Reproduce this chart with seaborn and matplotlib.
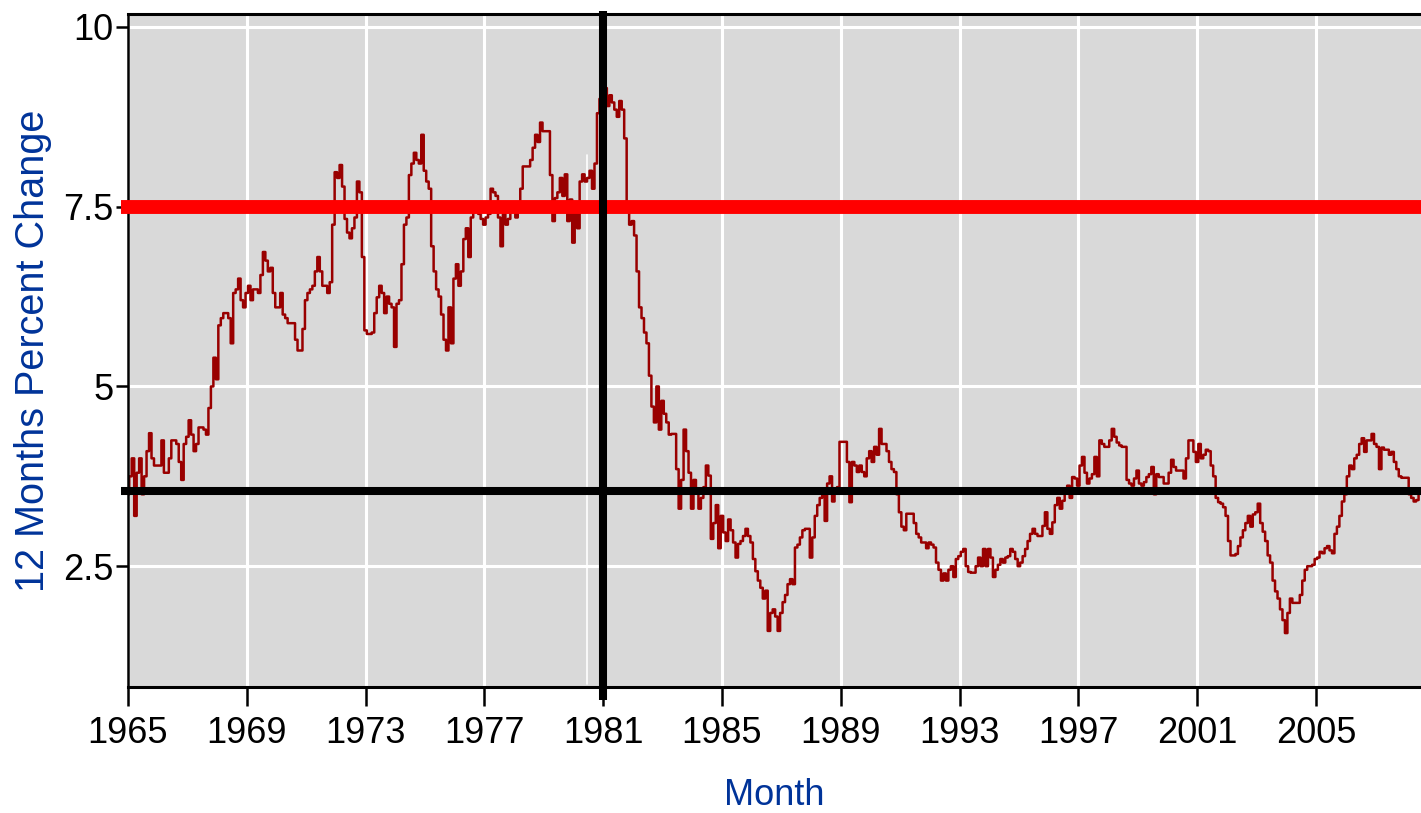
# -*- coding: utf-8 -*-
"""
12 months percent change, monthly 1965 - mid 2008
"""
import numpy as np
import pandas as pd
import matplotlib
matplotlib.use("Agg")
import matplotlib.pyplot as plt
from matplotlib import font_manager
import seaborn as sns

# =====================
# data (one list per stretch of years, monthly values)
# =====================
rate_1965_1969 = [
    3.5, 3.75, 4.0, 3.2, 3.8, 4.0, 3.5, 3.75, 4.1, 4.35, 4.0, 3.9,
    3.9, 3.9, 4.25, 3.8, 3.8, 4.0, 4.25, 4.25, 4.2, 3.95, 3.7, 4.2,
    4.3, 4.53, 4.33, 4.1, 4.2, 4.43, 4.43, 4.4, 4.33, 4.7, 5.0, 5.4,
    5.1, 5.85, 5.95, 6.02, 6.02, 5.95, 5.6, 6.3, 6.35, 6.5, 6.2, 6.1,
    6.3, 6.4, 6.2, 6.35, 6.35, 6.3, 6.55, 6.87, 6.75, 6.6, 6.65, 6.3,
]
rate_1970_1974 = [
    6.1, 6.1, 6.3, 6.0, 5.95, 5.88, 5.88, 5.88, 5.65, 5.5, 5.5, 5.8,
    6.2, 6.3, 6.35, 6.4, 6.6, 6.8, 6.6, 6.4, 6.4, 6.3, 6.45, 7.25,
    7.98, 7.9, 8.08, 7.78, 7.33, 7.14, 7.06, 7.2, 7.35, 7.85, 7.7, 6.8,
    5.78, 5.73, 5.73, 5.75, 6.02, 6.24, 6.4, 6.3, 6.02, 6.25, 6.15, 6.1,
    5.55, 6.15, 6.2, 6.7, 7.25, 7.35, 7.94, 8.1, 8.25, 8.15, 8.1, 8.5,
]
rate_1975_1979 = [
    8.0, 7.85, 7.75, 6.95, 6.6, 6.35, 6.25, 6.0, 5.65, 5.5, 6.1, 5.6,
    6.5, 6.7, 6.4, 6.6, 7.05, 7.2, 6.8, 7.35, 7.43, 7.43, 7.4, 7.33,
    7.25, 7.35, 7.4, 7.75, 7.7, 7.65, 7.35, 6.95, 7.4, 7.25, 7.33, 7.48,
    7.45, 7.35, 7.45, 7.75, 8.06, 8.06, 8.06, 8.15, 8.32, 8.5, 8.4, 8.67,
    8.55, 8.55, 8.55, 7.94, 7.3, 7.62, 7.7, 7.9, 7.65, 7.95, 7.3, 7.6,
]
rate_1980_1984 = [
    7.0, 7.5, 7.2, 7.85, 7.95, 7.85, 7.9, 8.0, 7.75, 8.1, 8.8, 9.0,
    9.1, 9.15, 8.9, 9.05, 8.95, 8.85, 8.75, 8.97, 8.85, 8.45, 7.55, 7.25,
    7.3, 7.1, 6.6, 6.1, 5.95, 5.75, 5.6, 5.15, 4.72, 4.5, 5.0, 4.4,
    4.8, 4.62, 4.5, 4.33, 4.34, 4.34, 3.85, 3.3, 3.7, 4.4, 4.1, 3.8,
    3.3, 3.7, 3.55, 3.3, 3.45, 3.6, 3.9, 3.76, 2.88, 3.1, 3.35, 2.75,
]
rate_1985_1989 = [
    3.2, 2.97, 2.85, 3.15, 3.0, 2.83, 2.62, 2.81, 2.85, 2.92, 3.02, 2.92,
    2.83, 2.6, 2.43, 2.3, 2.2, 2.05, 2.16, 1.6, 1.85, 1.9, 1.8, 1.6,
    1.85, 2.0, 2.1, 2.25, 2.32, 2.25, 2.76, 2.8, 2.9, 3.0, 3.02, 3.02,
    2.62, 2.9, 3.2, 3.35, 3.45, 3.5, 3.13, 3.65, 3.75, 3.4, 3.55, 3.6,
    4.23, 4.23, 4.23, 3.95, 3.39, 3.95, 3.9, 3.81, 3.9, 3.81, 3.75, 4.0,
]
rate_1990_1994 = [
    4.1, 3.95, 4.16, 4.05, 4.41, 4.2, 4.2, 4.1, 3.95, 3.85, 3.81, 3.5,
    3.25, 3.05, 3.0, 3.23, 3.23, 3.23, 3.1, 2.95, 2.9, 2.83, 2.83, 2.75,
    2.83, 2.8, 2.76, 2.55, 2.45, 2.3, 2.4, 2.3, 2.45, 2.5, 2.35, 2.6,
    2.64, 2.7, 2.74, 2.5, 2.42, 2.41, 2.41, 2.5, 2.62, 2.5, 2.74, 2.5,
    2.74, 2.62, 2.35, 2.45, 2.52, 2.6, 2.55, 2.62, 2.64, 2.74, 2.7, 2.6,
]
rate_1995_1999 = [
    2.5, 2.55, 2.64, 2.74, 2.85, 2.95, 3.02, 2.95, 2.92, 2.92, 3.06, 3.25,
    3.02, 2.95, 3.11, 3.35, 3.45, 3.3, 3.41, 3.55, 3.62, 3.45, 3.74, 3.72,
    3.62, 3.9, 4.02, 3.8, 3.65, 3.72, 3.78, 4.02, 3.75, 4.25, 4.2, 4.16,
    4.16, 4.25, 4.41, 4.3, 4.22, 4.18, 4.16, 4.16, 3.7, 3.65, 3.62, 3.72,
    3.83, 3.65, 3.62, 3.67, 3.74, 3.78, 3.88, 3.5, 3.78, 3.74, 3.74, 3.65,
]
rate_2000_2004 = [
    3.65, 3.8, 3.98, 3.88, 3.83, 3.83, 3.83, 3.72, 4.0, 4.25, 4.25, 4.09,
    3.95, 4.2, 4.0, 4.05, 4.12, 4.1, 3.9, 3.75, 3.45, 3.39, 3.37, 3.32,
    3.2, 2.85, 2.65, 2.65, 2.67, 2.78, 2.9, 3.0, 3.1, 3.2, 3.05, 3.22,
    3.25, 3.37, 3.1, 2.98, 2.85, 2.65, 2.55, 2.3, 2.15, 2.05, 1.9, 1.75,
    1.57, 1.85, 2.05, 1.99, 1.99, 1.99, 2.1, 2.3, 2.45, 2.5, 2.5, 2.52,
]
rate_2005_2008 = [
    2.6, 2.62, 2.7, 2.68, 2.75, 2.78, 2.72, 2.68, 2.95, 3.05, 3.2, 3.4,
    3.5, 3.75, 3.9, 3.85, 4.0, 4.05, 4.2, 4.28, 4.09, 4.25, 4.25, 4.34,
    4.2, 4.16, 3.85, 4.15, 4.12, 4.12, 4.05, 4.09, 3.95, 3.85, 3.75, 3.73,
    3.73, 3.73, 3.5, 3.45, 3.4, 3.42, 3.55,
]

first_year = 1965
year_ticks = [1965, 1969, 1973, 1977, 1981, 1985, 1989, 1993, 1997, 2001, 2005]
value_ticks = [2.5, 5, 7.5, 10]
value_tick_labels = ["2.5", "5", "7.5", "10"]

target_level = 7.5      # red reference line
average_level = 3.55    # black reference line
break_year = 1981       # black vertical line

# =====================
# assemble
# =====================
rate = (rate_1965_1969 + rate_1970_1974 + rate_1975_1979 + rate_1980_1984
        + rate_1985_1989 + rate_1990_1994 + rate_1995_1999 + rate_2000_2004
        + rate_2005_2008)
df = pd.DataFrame({
    "Month": first_year + np.arange(len(rate)) / 12.0,
    "change": rate,
})

# =====================
# style
# =====================
sns.set_theme(style="darkgrid", rc={
    "axes.facecolor": "#D9D9D9",
    "grid.color": "white",
    "grid.linewidth": 2.2,
})

# narrow font for the numbers if one is installed
installed = {f.name for f in font_manager.fontManager.ttflist}
if "Liberation Sans Narrow" in installed:
    num_family, num_size = "Liberation Sans Narrow", 30
elif "DejaVu Sans Condensed" in installed:
    num_family, num_size = "DejaVu Sans Condensed", 25
else:
    num_family, num_size = "Liberation Sans", 26
plt.rcParams["font.family"] = [num_family, "DejaVu Sans"]
label_blue = "#003399"

fig = plt.figure(figsize=(14.21, 8.13), dpi=100)
ax = fig.add_axes([128 / 1421, 126 / 813, 1293 / 1421, 673 / 813])

sns.lineplot(data=df, x="Month", y="change", ax=ax, color="#990000",
             linewidth=1.8, drawstyle="steps-mid", zorder=2)

# reference lines
ax.axhline(target_level, xmin=-0.0054, xmax=1, color="#FF0000",
           linewidth=10, solid_capstyle="butt", clip_on=False, zorder=4)
ax.axhline(average_level, xmin=-0.0054, xmax=1, color="black",
           linewidth=5.8, solid_capstyle="butt", clip_on=False, zorder=5)
ax.axvline(break_year, ymin=-0.019, ymax=1.004, color="black",
           linewidth=5.8, solid_capstyle="butt", clip_on=False, zorder=5)
# stray thin white line seen in the original
ax.axvline(1980.45, ymin=0.005, ymax=0.79, color="white", linewidth=1.2, zorder=1)

# axes
ax.set_xlim(first_year, 2008.54)
ax.set_ylim(0.82, 10.18)
ax.set_xticks(year_ticks)
ax.set_xticklabels([str(y) for y in year_ticks])
ax.set_yticks(value_ticks)
ax.set_yticklabels(value_tick_labels)

ax.tick_params(axis="x", bottom=True, length=14, width=1.8, pad=7,
               labelsize=num_size, colors="black")
ax.tick_params(axis="y", left=True, length=8.5, width=1.8, pad=2,
               labelsize=num_size, colors="black")

for side in ["left", "top", "bottom"]:
    ax.spines[side].set_visible(True)
    ax.spines[side].set_color("black")
ax.spines["left"].set_linewidth(1.8)
ax.spines["top"].set_linewidth(2.2)
ax.spines["bottom"].set_linewidth(2.2)
ax.spines["right"].set_visible(False)

ax.set_xlabel("Month", fontsize=num_size, color=label_blue)
ax.xaxis.set_label_coords(0.5, -0.1605)
ax.xaxis.label.set_va("center")

ax.set_ylabel("12 Months Percent Change", fontsize=28.5, color=label_blue,
              family=["Liberation Sans", "DejaVu Sans"])
ax.yaxis.set_label_coords(-0.0735, 0.5)
ax.yaxis.label.set_va("center")

fig.savefig("out.png", dpi=100, facecolor="white")
